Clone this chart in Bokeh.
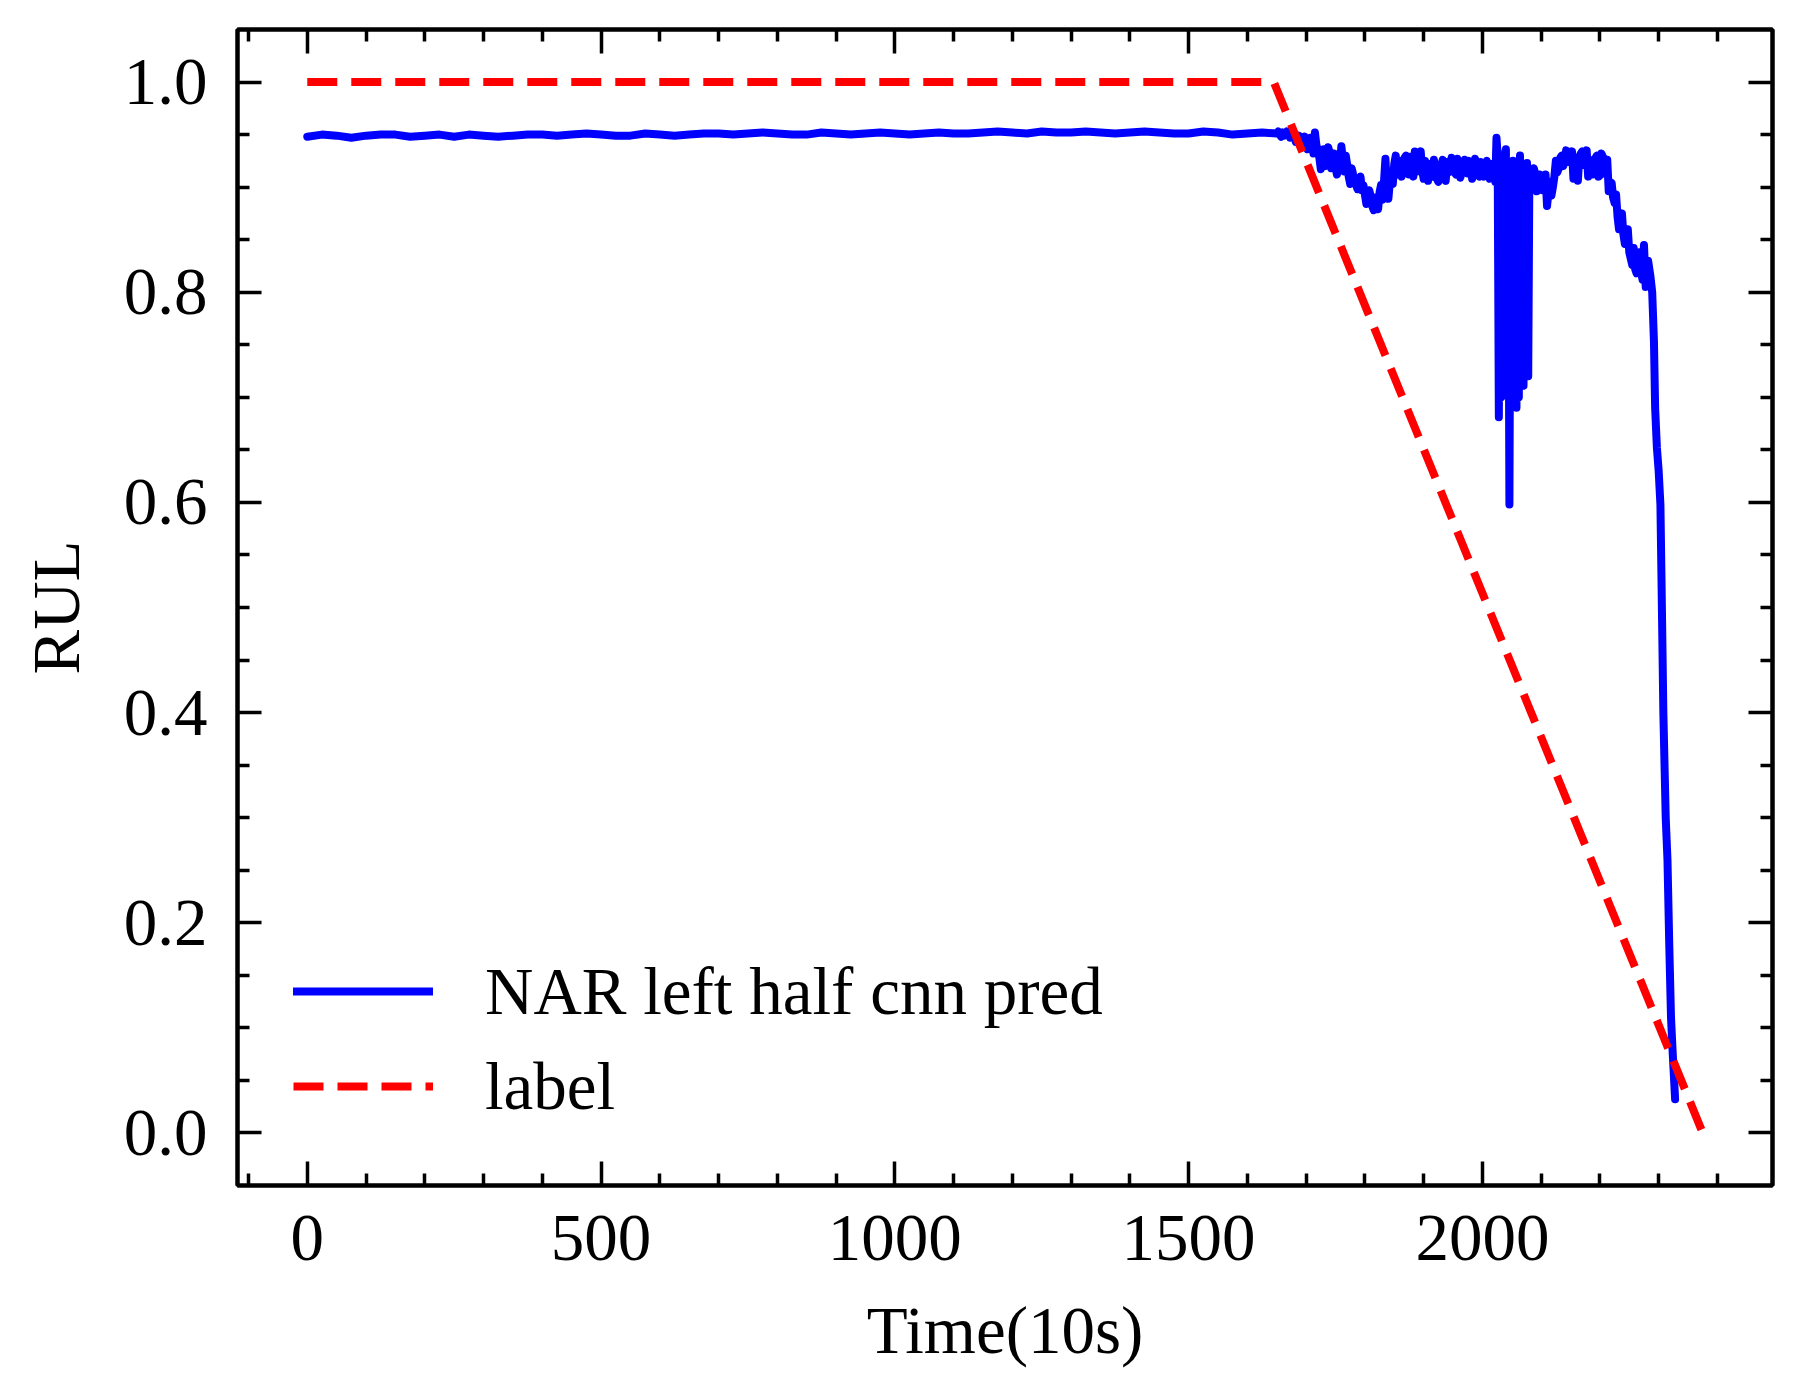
from bokeh.plotting import figure
from bokeh.models import Range1d, FixedTicker, LinearAxis, PrintfTickFormatter, CustomLabelingPolicy
from bokeh.embed import file_html
from bokeh.resources import INLINE

# ---- data ----
label_t = [0, 1645, 2375]
label_v = [1.0, 1.0, 0.0]

flat_t = [0, 50, 100, 150, 200, 250, 300, 350, 400, 450, 500, 550, 600, 650, 700, 750,
          800, 850, 900, 950, 1000, 1050, 1100, 1150, 1200, 1250, 1300, 1350, 1400, 1450,
          1500, 1550, 1600]
flat_v = [0.948, 0.949, 0.949, 0.950, 0.949, 0.948, 0.949, 0.949, 0.950, 0.950, 0.950,
          0.949, 0.950, 0.950, 0.951, 0.951, 0.951, 0.950, 0.951, 0.951, 0.951, 0.951,
          0.951, 0.952, 0.952, 0.953, 0.952, 0.952, 0.952, 0.952, 0.951, 0.952, 0.951]

flat_mid_t = [25, 75, 125, 175, 225, 275, 325, 375, 425, 475, 525, 575, 625, 675, 725, 775,
              825, 875, 925, 975, 1025, 1075, 1125, 1175, 1225, 1275, 1325, 1375, 1425,
              1475, 1525, 1575, 1625]
flat_mid_v = [0.950, 0.947, 0.950, 0.948, 0.950, 0.950, 0.948, 0.950, 0.949, 0.951, 0.949,
              0.951, 0.949, 0.951, 0.950, 0.952, 0.950, 0.952, 0.950, 0.952, 0.950, 0.952,
              0.951, 0.953, 0.951, 0.952, 0.953, 0.951, 0.953, 0.951, 0.953, 0.950, 0.952]

noisy_t = [1650, 1655, 1660, 1665, 1670, 1675, 1680, 1685, 1690, 1695, 1700, 1705, 1710,
           1715, 1720, 1725, 1730, 1735, 1740, 1745, 1750, 1755, 1760, 1765, 1770, 1775,
           1780, 1785, 1790, 1795, 1800, 1805, 1810, 1815, 1820, 1825, 1830, 1835, 1840,
           1845, 1850, 1855, 1860, 1865, 1870, 1875, 1880, 1885, 1890, 1895, 1900, 1905,
           1910, 1915, 1920, 1925, 1930, 1935, 1940, 1945, 1950, 1955, 1960, 1965, 1970,
           1975, 1980, 1985, 1990, 1995, 2000, 2005, 2010, 2015, 2020]
noisy_v = [0.951, 0.950, 0.952, 0.950, 0.951, 0.949, 0.948, 0.946, 0.944, 0.943, 0.945,
           0.941, 0.944, 0.952, 0.935, 0.917, 0.936, 0.928, 0.933, 0.922, 0.918, 0.930,
           0.939, 0.915, 0.921, 0.903, 0.912, 0.902, 0.906, 0.897, 0.893, 0.886, 0.891,
           0.878, 0.884, 0.895, 0.888, 0.927, 0.889, 0.915, 0.922, 0.912, 0.925, 0.918,
           0.930, 0.912, 0.922, 0.934, 0.915, 0.934, 0.908, 0.915, 0.922, 0.910, 0.917,
           0.905, 0.921, 0.913, 0.924, 0.918, 0.925, 0.912, 0.922, 0.915, 0.926, 0.913,
           0.920, 0.916, 0.923, 0.910, 0.918, 0.921, 0.914, 0.919, 0.912]

noisy_mid_t = [1652.5, 1657.5, 1662.5, 1667.5, 1672.5, 1677.5, 1682.5, 1687.5, 1692.5,
               1697.5, 1702.5, 1707.5, 1712.5, 1717.5, 1722.5, 1727.5, 1732.5, 1737.5,
               1742.5, 1747.5, 1752.5, 1757.5, 1762.5, 1767.5, 1772.5, 1777.5, 1782.5,
               1787.5, 1792.5, 1797.5, 1802.5, 1807.5, 1812.5, 1817.5, 1822.5, 1827.5,
               1832.5, 1837.5, 1842.5, 1847.5, 1852.5, 1857.5, 1862.5, 1867.5, 1872.5,
               1877.5, 1882.5, 1887.5, 1892.5, 1897.5, 1902.5, 1907.5, 1912.5, 1917.5,
               1922.5, 1927.5, 1932.5, 1937.5, 1942.5, 1947.5, 1952.5, 1957.5, 1962.5,
               1967.5, 1972.5, 1977.5, 1982.5, 1987.5, 1992.5, 1997.5, 2002.5, 2007.5,
               2012.5, 2017.5]
noisy_mid_v = [0.953, 0.948, 0.949, 0.953, 0.947, 0.952, 0.943, 0.949, 0.938,
               0.948, 0.936, 0.947, 0.932, 0.940, 0.928, 0.925, 0.920, 0.938,
               0.918, 0.932, 0.912, 0.922, 0.926, 0.930, 0.910, 0.918, 0.908,
               0.898, 0.910, 0.902, 0.884, 0.897, 0.882, 0.890, 0.879, 0.902,
               0.905, 0.897, 0.905, 0.903, 0.930, 0.920, 0.910, 0.928, 0.919,
               0.929, 0.910, 0.924, 0.928, 0.916, 0.925, 0.906, 0.916, 0.926,
               0.908, 0.918, 0.926, 0.906, 0.914, 0.928, 0.914, 0.927, 0.909,
               0.918, 0.920, 0.925, 0.908, 0.927, 0.914, 0.924, 0.910, 0.925,
               0.908, 0.922]

spike_t = [2022, 2024, 2026, 2028, 2030, 2032, 2034, 2036, 2038, 2040, 2042, 2044, 2046,
           2048, 2050, 2052, 2054, 2056, 2058, 2060, 2062, 2064, 2066, 2068, 2070, 2072,
           2074, 2076, 2078, 2080]
spike_v = [0.905, 0.947, 0.930, 0.681, 0.920, 0.700, 0.925, 0.720, 0.930, 0.936, 0.750,
           0.920, 0.598, 0.910, 0.700, 0.925, 0.720, 0.915, 0.690, 0.920, 0.700, 0.930,
           0.730, 0.920, 0.711, 0.915, 0.730, 0.923, 0.720, 0.918]

late_t = [2082, 2085, 2090, 2095, 2100, 2105, 2110, 2115, 2120, 2125, 2130, 2135, 2140,
          2145, 2150, 2155, 2160, 2165, 2170, 2175, 2180, 2185, 2190, 2195, 2200, 2205,
          2210, 2215, 2220, 2225, 2230, 2235, 2240, 2245, 2250, 2255, 2260, 2265, 2270,
          2275, 2278, 2282, 2286, 2289]
late_v = [0.915, 0.905, 0.912, 0.900, 0.908, 0.903, 0.882, 0.905, 0.900, 0.925, 0.918,
          0.930, 0.925, 0.933, 0.926, 0.908, 0.918, 0.929, 0.934, 0.925, 0.910, 0.922,
          0.914, 0.930, 0.911, 0.929, 0.918, 0.896, 0.904, 0.885, 0.872, 0.866, 0.855,
          0.849, 0.838, 0.826, 0.822, 0.830, 0.820, 0.845, 0.805, 0.830, 0.815, 0.800]

late_mid_t = [2083.5, 2087.5, 2092.5, 2097.5, 2102.5, 2107.5, 2112.5, 2117.5, 2122.5,
              2127.5, 2132.5, 2137.5, 2142.5, 2147.5, 2152.5, 2157.5, 2162.5, 2167.5,
              2172.5, 2177.5, 2182.5, 2187.5, 2192.5, 2197.5, 2202.5, 2207.5, 2212.5,
              2217.5, 2222.5, 2227.5, 2232.5, 2237.5, 2242.5, 2247.5, 2252.5, 2257.5,
              2262.5, 2267.5, 2272.5]
late_mid_v = [0.898, 0.918, 0.896, 0.912, 0.897, 0.912, 0.895, 0.892, 0.910,
              0.914, 0.928, 0.920, 0.935, 0.924, 0.934, 0.920, 0.906, 0.932,
              0.921, 0.935, 0.926, 0.912, 0.928, 0.910, 0.932, 0.913, 0.926,
              0.905, 0.890, 0.893, 0.860, 0.875, 0.846, 0.860, 0.832, 0.842,
              0.818, 0.838, 0.812]

drop_t = [2292, 2294, 2297, 2300, 2303, 2305, 2308, 2310, 2312, 2315, 2318, 2321, 2324, 2328]
drop_v = [0.753, 0.690, 0.652, 0.630, 0.598, 0.520, 0.400, 0.350, 0.300, 0.260, 0.180,
          0.110, 0.075, 0.032]

pairs = sorted(zip(flat_t + flat_mid_t + noisy_t + noisy_mid_t + spike_t + late_t
                   + late_mid_t + drop_t,
                   flat_v + flat_mid_v + noisy_v + noisy_mid_v + spike_v + late_v
                   + late_mid_v + drop_v))
pred_t = [a for a, _ in pairs]
pred_v = [b for _, b in pairs]

x_major = [0, 500, 1000, 1500, 2000]
x_minor = [-100, 100, 200, 300, 400, 600, 700, 800, 900, 1100, 1200, 1300, 1400, 1600,
           1700, 1800, 1900, 2100, 2200, 2300, 2400]
y_major = [0.0, 0.2, 0.4, 0.6, 0.8, 1.0]
y_minor = [0.05, 0.1, 0.15, 0.25, 0.3, 0.35, 0.45, 0.5, 0.55, 0.65, 0.7, 0.75, 0.85,
           0.9, 0.95]

FONT = "Liberation Serif"
FS = "67px"

p = figure(frame_width=1535, frame_height=1156, output_backend="svg", toolbar_location=None,
           x_range=Range1d(-118.75, 2493.75), y_range=Range1d(-0.05, 1.05),
           min_border_left=237, min_border_right=21, min_border_top=29, min_border_bottom=200,
           x_axis_label="Time(10s)", y_axis_label="RUL")
p.grid.visible = False
p.outline_line_color = "black"
p.outline_line_width = 4
p.background_fill_color = "white"
p.border_fill_color = "white"

xt = FixedTicker(ticks=x_major, minor_ticks=x_minor)
yt = FixedTicker(ticks=y_major, minor_ticks=y_minor)


def style(ax, fs=FS):
    ax.axis_line_width = 4
    ax.major_tick_in = 24
    ax.major_tick_out = 0
    ax.minor_tick_in = 12
    ax.minor_tick_out = 0
    ax.major_tick_line_width = 3.5
    ax.minor_tick_line_width = 3.5
    ax.major_label_text_font = FONT
    ax.major_label_text_font_size = fs
    ax.major_label_text_color = "black"
    ax.axis_label_text_font = FONT
    ax.axis_label_text_font_size = FS
    ax.axis_label_text_font_style = "normal"
    ax.axis_label_text_color = "black"


p.xaxis[0].ticker = xt
p.yaxis[0].ticker = yt
p.yaxis[0].formatter = PrintfTickFormatter(format="%.1f")
style(p.xaxis[0])
style(p.yaxis[0])
p.xaxis[0].major_label_standoff = 30
p.xaxis[0].axis_label_standoff = 30
p.yaxis[0].major_label_standoff = 30
p.yaxis[0].axis_label_standoff = 28

no_labels = CustomLabelingPolicy(code="return new Set()")
top = LinearAxis(ticker=xt)
right = LinearAxis(ticker=yt)
style(top, fs="0px")
style(right, fs="0px")
top.major_label_policy = no_labels
right.major_label_policy = no_labels
top.major_label_standoff = 0
right.major_label_standoff = 0
p.add_layout(top, "above")
p.add_layout(right, "right")

p.line(pred_t, pred_v, line_color="#0000ff", line_width=8, line_join="round",
       line_cap="round", legend_label="NAR left half cnn pred")
p.line(label_t, label_v, line_color="#ff0000", line_width=8, line_dash="30 14",
       legend_label="label")

lg = p.legend[0]
lg.location = (56, 59)
lg.glyph_width = 140
lg.glyph_height = 80
lg.label_height = 80
lg.spacing = 15
lg.padding = 0
lg.margin = 0
lg.label_standoff = 52
lg.label_text_font = FONT
lg.label_text_font_size = FS
lg.label_text_color = "black"
lg.border_line_alpha = 0
lg.background_fill_alpha = 0

open("out.html", "w").write(file_html(p, INLINE))
